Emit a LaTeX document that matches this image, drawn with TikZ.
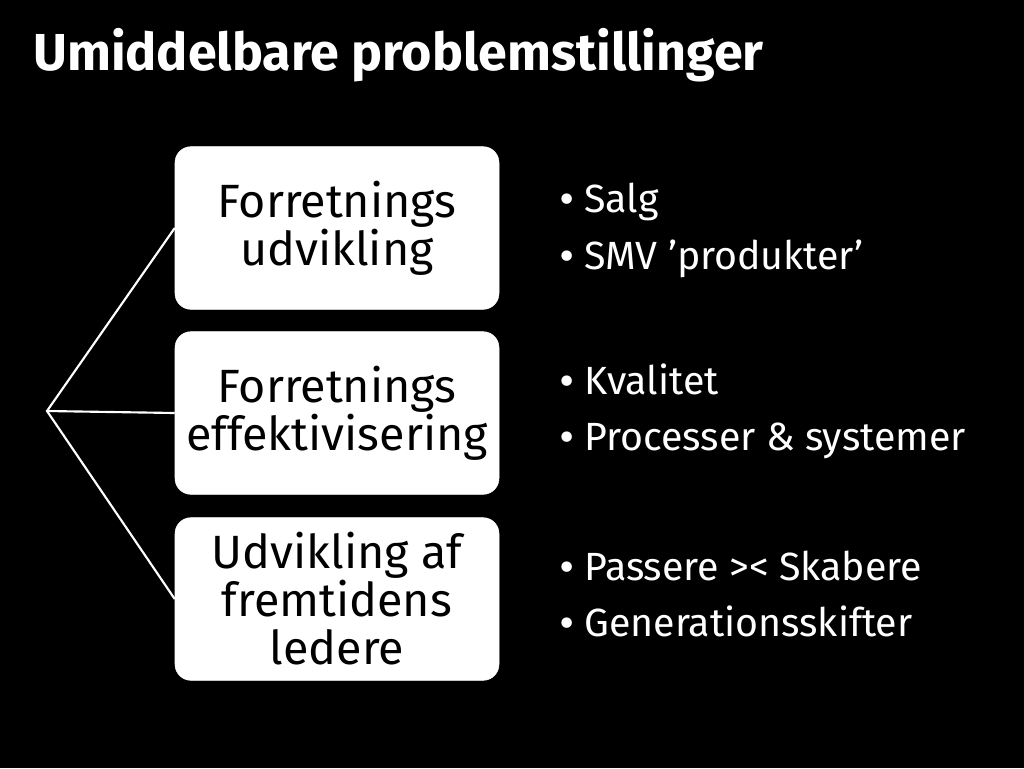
\documentclass[tikz,border=0pt]{standalone}
\usepackage{fontspec}
\setmainfont{Fira Sans}
\newfontfamily\bulfont{DejaVu Sans}
\begin{document}
\begin{tikzpicture}[x=0.75pt,y=-0.75pt,
  box/.style={draw=white,fill=white,rounded corners=12pt,minimum width=243pt,minimum height=122pt,align=center,text=black,inner sep=0pt,font=\fontsize{35}{36}\selectfont},
  conn/.style={draw=white,line width=1.6pt},
  bul/.style={anchor=base west,text=white,inner sep=0pt,font=\fontsize{29.5}{30}\selectfont},
  ttl/.style={anchor=base west,text=white,inner sep=0pt,font=\fontsize{39}{44}\selectfont\bfseries}]
\fill[black] (0,0) rectangle (1024,768);
\useasboundingbox (0,0) rectangle (1024,768);
\node[ttl] (title) at (33,70) {Umiddelbare problemstillinger};
\node[box] (b1) at (337,228) {Forretnings\\udvikling};
\node[box] (b2) at (337,413) {Forretnings\\effektivisering};
\node[box] (b3) at (337,599) {Udvikling af\\fremtidens\\ledere};
\coordinate (root) at (47,411);
\draw[conn] (b1.west) -- (root) -- (b3.west);
\draw[conn] (root) -- (b2.west);
\newcommand{\bu}[1]{\makebox[19.5pt][l]{\hspace{-1pt}{\bulfont\fontsize{27}{28}\selectfont•}}#1}
\node[bul] (s1) at (558,212) {\bu{Salg}};
\node[bul] (s2) at (558,269) {\bu{SMV ’produkter’}};
\node[bul] (s3) at (558,394) {\bu{Kvalitet}};
\node[bul] (s4) at (558,450) {\bu{Processer \& systemer}};
\node[bul] (s5) at (558,580) {\bu{Passere >< Skabere}};
\node[bul] (s6) at (558,636) {\bu{Generationsskifter}};
\end{tikzpicture}
\end{document}
